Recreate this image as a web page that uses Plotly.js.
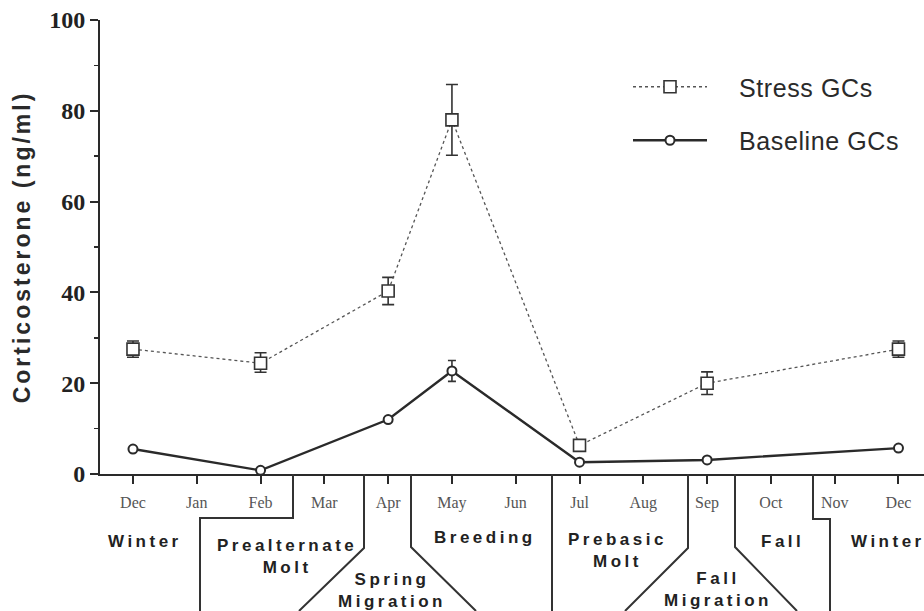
<!DOCTYPE html>
<html>
<head>
<meta charset="utf-8">
<script src="https://cdn.plot.ly/plotly-3.0.1.min.js"></script>
<style>
  html, body { margin: 0; padding: 0; background: #fff; }
  #chart { width: 924px; height: 611px; }
  .annotation-text { letter-spacing: 3.5px; }
  .ytitle { letter-spacing: 3px; }
  .legendtext { letter-spacing: 0.6px; transform: translateX(27px); }
  .legend .scrollbox { clip-path: none !important; }
</style>
</head>
<body>
<div id="chart"></div>
<script>
// ---- data ----
const monthLabels = ["Dec","Jan","Feb","Mar","Apr","May","Jun","Jul","Aug","Sep","Oct","Nov","Dec"];
const monthIdx = [0,1,2,3,4,5,6,7,8,9,10,11,12];
const sampleIdx = [0, 2, 4, 5, 7, 9, 12];
const stressGC = [27.5, 24.4, 40.3, 78.0, 6.3, 20.0, 27.5];
const stressErrUp = [1.8, 2.3, 3.0, 7.8, 0.8, 2.5, 1.8];
const stressErrDown = [1.8, 2.0, 3.0, 7.8, 0.8, 2.5, 1.8];
const baselineGC = [5.5, 0.8, 12.0, 22.7, 2.6, 3.1, 5.7];
const baselineErr = [0.4, 0.3, 0.6, 2.3, 0.4, 0.4, 0.4];

const seasons = [
  {text: "Winter", x: 145, y: 541},
  {text: "Prealternate<br>Molt", x: 287, y: 556},
  {text: "Spring<br>Migration", x: 392, y: 590},
  {text: "Breeding", x: 485, y: 537},
  {text: "Prebasic<br>Molt", x: 617, y: 550},
  {text: "Fall<br>Migration", x: 718, y: 589},
  {text: "Fall", x: 782, y: 541},
  {text: "Winter", x: 888, y: 541}
];
const boundaries = [
  [[293,474],[293,518],[200,518],[200,611]],
  [[364,474],[364,548],[299,611]],
  [[411,474],[411,547],[476,611]],
  [[552,474],[552,611]],
  [[688,474],[688,548],[625,611]],
  [[735,474],[735,547],[797,611]],
  [[813,474],[813,519],[830,519],[830,611]]
];

// ---- geometry ----
const W = 924, H = 611, ML = 100, MR = 0, MT = 20, MB = 137;
const PW = W - ML - MR, PH = H - MT - MB;
const px = x => (x - ML) / PW;
const py = y => (H - MB - y) / PH;

const ink = "#2a2a2a";

const traces = [
  {
    x: sampleIdx, y: stressGC, name: "Stress GCs",
    type: "scatter", mode: "lines+markers", legendgroup: "a",
    line: {color: "#555", width: 1.3, dash: "dot"},
    marker: {symbol: "square", size: 12, color: "#fff", line: {color: "#333", width: 1.6}},
    error_y: {type: "data", symmetric: false, array: stressErrUp, arrayminus: stressErrDown,
              color: "#333", thickness: 1.6, width: 6},
    cliponaxis: false
  },
  {
    x: sampleIdx, y: baselineGC, name: "Baseline GCs",
    type: "scatter", mode: "lines+markers", legendgroup: "b",
    line: {color: "#2a2a2a", width: 2.4},
    marker: {symbol: "circle", size: 9, color: "#fff", line: {color: "#2a2a2a", width: 2}},
    error_y: {type: "data", array: baselineErr, color: "#333", thickness: 1.6, width: 4},
    cliponaxis: false
  }
];

const shapes = boundaries.map(pts => ({
  type: "path", xref: "paper", yref: "paper",
  path: pts.map((p, i) => (i ? "L" : "M") + px(p[0]) + "," + py(p[1])).join(" "),
  line: {color: "#333", width: 2}
}));

const annotations = seasons.map(s => ({
  text: s.text, xref: "paper", yref: "paper",
  x: px(s.x), y: py(s.y), xanchor: "center", yanchor: "middle",
  showarrow: false, align: "center",
  font: {family: "Liberation Sans, Arial, sans-serif", size: 17, color: "#222", weight: "bold"}
}));

const layout = {
  width: W, height: H,
  margin: {l: ML, r: MR, t: MT, b: MB, pad: 0},
  paper_bgcolor: "#fff", plot_bgcolor: "#fff",
  showlegend: true,
  legend: {
    x: px(628), y: py(64), xanchor: "left", yanchor: "top",
    bgcolor: "rgba(0,0,0,0)", itemwidth: 74, tracegroupgap: 18,
    traceorder: "grouped",
    font: {family: "Liberation Sans, Arial, sans-serif", size: 25, color: "#2a2a2a"}
  },
  xaxis: {
    range: [-0.517, 12.4], tickmode: "array", tickvals: monthIdx, ticktext: monthLabels,
    showline: true, linecolor: ink, linewidth: 2, ticks: "outside", ticklen: 8,
    tickwidth: 2, tickcolor: ink, showgrid: false, zeroline: false,
    ticklabelstandoff: 5,
    tickfont: {family: "Liberation Serif, Times New Roman, serif", size: 16, color: "#555"},
    fixedrange: true
  },
  yaxis: {
    range: [0, 100], tickvals: [0,20,40,60,80,100],
    showline: true, linecolor: ink, linewidth: 2, ticks: "outside", ticklen: 8,
    tickwidth: 2, tickcolor: ink, showgrid: false, zeroline: false,
    minor: {dtick: 10, ticks: "outside", ticklen: 4, tickwidth: 1.5, tickcolor: ink, showgrid: false},
    tickfont: {family: "Liberation Serif, Times New Roman, serif", size: 24, color: "#222", weight: "bold"},
    title: {text: "Corticosterone (ng/ml)", standoff: 12,
            font: {family: "Liberation Sans, Arial, sans-serif", size: 23, color: "#2a2a2a", weight: "bold"}},
    fixedrange: true
  },
  shapes: shapes,
  annotations: annotations
};

Plotly.newPlot("chart", traces, layout, {displayModeBar: false, staticPlot: true});
</script>
</body>
</html>
